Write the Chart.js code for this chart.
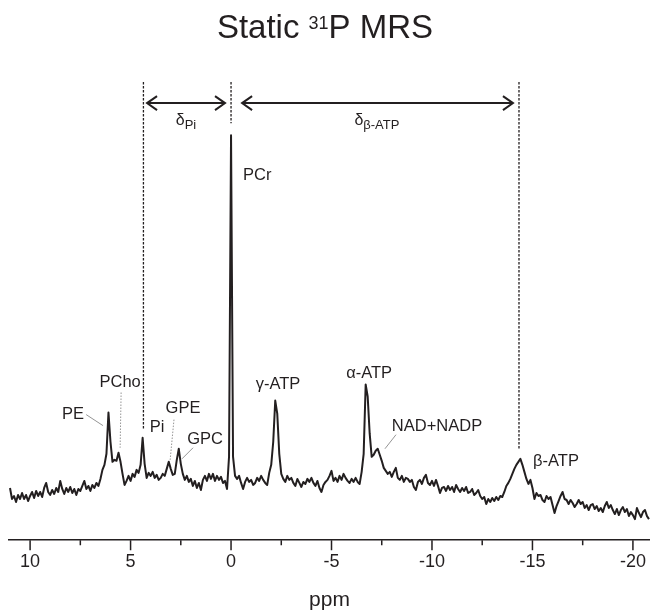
<!DOCTYPE html>
<html lang="en">
<head>
<meta charset="UTF-8">
<title>Static 31P MRS</title>
<style>
  body { margin: 0; background: #fff; }
  canvas { display: block; }
</style>
</head>
<body>
<canvas id="mrs" width="650" height="613"></canvas>
<script src="https://cdn.jsdelivr.net/npm/chart.js"></script>
<script>
// chemical shift axis (ppm) and signal intensity (a.u.)
const ppm = [
  11.0, 10.9, 10.8, 10.7, 10.6, 10.5, 10.4, 10.3, 10.2, 10.1,
  10.0, 9.9, 9.8, 9.7, 9.6, 9.5, 9.4, 9.3, 9.2, 9.1,
  9.0, 8.9, 8.8, 8.7, 8.6, 8.5, 8.4, 8.3, 8.2, 8.1,
  8.0, 7.9, 7.8, 7.7, 7.6, 7.5, 7.4, 7.3, 7.2, 7.1,
  7.0, 6.9, 6.8, 6.7, 6.6, 6.5, 6.4, 6.3, 6.2, 6.1,
  6.0, 5.9, 5.8, 5.7, 5.6, 5.5, 5.4, 5.3, 5.2, 5.1,
  5.0, 4.9, 4.8, 4.7, 4.6, 4.5, 4.4, 4.3, 4.2, 4.1,
  4.0, 3.9, 3.8, 3.7, 3.6, 3.5, 3.4, 3.3, 3.2, 3.1,
  3.0, 2.9, 2.8, 2.7, 2.6, 2.5, 2.4, 2.3, 2.2, 2.1,
  2.0, 1.9, 1.8, 1.7, 1.6, 1.5, 1.4, 1.3, 1.2, 1.1,
  1.0, 0.9, 0.8, 0.7, 0.6, 0.5, 0.4, 0.3, 0.2, 0.1,
  0.0, -0.1, -0.2, -0.3, -0.4, -0.5, -0.6, -0.7, -0.8, -0.9,
  -1.0, -1.1, -1.2, -1.3, -1.4, -1.5, -1.6, -1.7, -1.8, -1.9,
  -2.0, -2.1, -2.2, -2.3, -2.4, -2.5, -2.6, -2.7, -2.8, -2.9,
  -3.0, -3.1, -3.2, -3.3, -3.4, -3.5, -3.6, -3.7, -3.8, -3.9,
  -4.0, -4.1, -4.2, -4.3, -4.4, -4.5, -4.6, -4.7, -4.8, -4.9,
  -5.0, -5.1, -5.2, -5.3, -5.4, -5.5, -5.6, -5.7, -5.8, -5.9,
  -6.0, -6.1, -6.2, -6.3, -6.4, -6.5, -6.6, -6.7, -6.8, -6.9,
  -7.0, -7.1, -7.2, -7.3, -7.4, -7.5, -7.6, -7.7, -7.8, -7.9,
  -8.0, -8.1, -8.2, -8.3, -8.4, -8.5, -8.6, -8.7, -8.8, -8.9,
  -9.0, -9.1, -9.2, -9.3, -9.4, -9.5, -9.6, -9.7, -9.8, -9.9,
  -10.0, -10.1, -10.2, -10.3, -10.4, -10.5, -10.6, -10.7, -10.8, -10.9,
  -11.0, -11.1, -11.2, -11.3, -11.4, -11.5, -11.6, -11.7, -11.8, -11.9,
  -12.0, -12.1, -12.2, -12.3, -12.4, -12.5, -12.6, -12.7, -12.8, -12.9,
  -13.0, -13.1, -13.2, -13.3, -13.4, -13.5, -13.6, -13.7, -13.8, -13.9,
  -14.0, -14.1, -14.2, -14.3, -14.4, -14.5, -14.6, -14.7, -14.8, -14.9,
  -15.0, -15.1, -15.2, -15.3, -15.4, -15.5, -15.6, -15.7, -15.8, -15.9,
  -16.0, -16.1, -16.2, -16.3, -16.4, -16.5, -16.6, -16.7, -16.8, -16.9,
  -17.0, -17.1, -17.2, -17.3, -17.4, -17.5, -17.6, -17.7, -17.8, -17.9,
  -18.0, -18.1, -18.2, -18.3, -18.4, -18.5, -18.6, -18.7, -18.8, -18.9,
  -19.0, -19.1, -19.2, -19.3, -19.4, -19.5, -19.6, -19.7, -19.8, -19.9,
  -20.0, -20.1, -20.2, -20.3, -20.4, -20.5, -20.6, -20.7, -20.8
];
const intensity = [
  10.4, 8.2, 8.8, 7.6, 9.0, 8.2, 9.4, 8.2, 9.0, 7.8,
  8.8, 9.6, 8.4, 9.8, 8.8, 9.6, 8.6, 10.4, 11.4, 9.6,
  9.0, 10.0, 9.2, 10.4, 9.6, 11.8, 10.2, 9.2, 10.4, 9.6,
  10.6, 9.4, 10.2, 9.0, 10.2, 9.8, 10.8, 11.8, 10.2, 10.8,
  9.8, 11.0, 10.4, 11.4, 10.8, 12.2, 14.0, 15.0, 17.2, 25.4,
  19.6, 15.6, 16.0, 15.8, 17.4, 15.6, 13.2, 11.0, 11.8, 12.8,
  11.8, 13.2, 12.6, 14.0, 13.4, 15.0, 20.4, 15.2, 12.4, 13.4,
  12.8, 13.6, 12.4, 13.0, 12.0, 12.4, 13.2, 12.8, 14.2, 15.6,
  14.2, 13.0, 13.2, 16.0, 18.2, 15.2, 13.2, 12.0, 12.8, 11.6,
  12.2, 10.8, 11.8, 10.4, 11.4, 10.0, 12.0, 12.8, 11.8, 13.2,
  12.2, 13.2, 11.8, 12.8, 12.0, 12.6, 11.4, 11.8, 10.2, 16.6,
  80.6, 16.6, 12.8, 12.2, 12.8, 11.4, 10.2, 11.6, 12.4, 11.6,
  12.0, 11.0, 11.4, 12.4, 11.8, 12.8, 12.0, 11.4, 11.0, 13.4,
  15.0, 19.6, 27.8, 25.2, 17.2, 13.2, 12.2, 11.6, 12.8, 12.0,
  12.4, 11.4, 10.8, 12.2, 11.4, 10.6, 11.6, 11.2, 12.2, 11.6,
  12.4, 11.4, 10.8, 11.8, 10.4, 9.6, 11.0, 11.6, 12.0, 12.8,
  13.8, 11.8, 12.4, 11.6, 12.8, 12.0, 13.2, 12.4, 11.8, 11.4,
  12.2, 11.6, 12.4, 11.6, 11.2, 13.6, 17.2, 31.0, 28.6, 21.2,
  16.6, 17.0, 17.8, 18.2, 17.0, 15.8, 14.4, 13.8, 13.2, 13.6,
  12.6, 13.6, 14.4, 12.4, 12.0, 12.8, 11.6, 12.4, 12.2, 11.6,
  12.0, 10.6, 10.0, 11.6, 12.0, 11.2, 12.4, 13.0, 11.4, 11.0,
  11.8, 10.8, 12.0, 10.8, 9.4, 10.4, 10.6, 9.8, 10.8, 10.0,
  10.6, 9.6, 11.0, 10.2, 9.6, 10.4, 9.8, 10.6, 9.4, 9.6,
  10.2, 9.0, 9.4, 10.0, 8.8, 8.2, 8.6, 7.2, 8.2, 7.6,
  8.4, 7.8, 8.6, 8.0, 8.8, 8.6, 9.6, 10.8, 11.4, 12.2,
  13.2, 14.2, 15.0, 15.6, 16.2, 15.0, 13.6, 12.2, 11.2, 12.0,
  10.4, 8.2, 9.4, 8.8, 9.0, 8.0, 7.6, 8.8, 8.2, 8.6,
  7.0, 5.4, 6.8, 7.8, 8.8, 9.6, 8.2, 8.0, 7.2, 8.0,
  7.4, 6.6, 7.2, 8.0, 7.2, 7.6, 6.4, 7.0, 6.0, 7.0,
  7.2, 6.2, 6.8, 5.8, 6.4, 5.6, 6.8, 7.6, 6.4, 7.0,
  6.0, 5.2, 6.2, 5.0, 6.0, 6.6, 5.6, 6.2, 4.8, 5.6,
  5.0, 4.2, 6.4, 5.4, 4.6, 5.6, 6.0, 4.8, 4.2
];
const majorTicks = [10, 5, 0, -5, -10, -15, -20];
const minorTicks = [7.5, 2.5, -2.5, -7.5, -12.5, -17.5];

// annotations, in (ppm, intensity)
const peakLabels = [
  { text: 'PE', x: 7.86, y: 25.0 },
  { text: 'PCho', x: 5.52, y: 31.4 },
  { text: 'Pi', x: 3.68, y: 22.4 },
  { text: 'GPE', x: 2.39, y: 26.2 },
  { text: 'GPC', x: 1.29, y: 20.0 },
  { text: 'PCr', x: -0.6, y: 72.6, align: 'left' },
  { text: 'γ-ATP', x: -2.34, y: 31.0 },
  { text: 'α-ATP', x: -6.87, y: 33.2 },
  { text: 'NAD+NADP', x: -10.25, y: 22.6 },
  { text: 'β-ATP', x: -16.17, y: 15.6 }
];
const leaders = [
  { x1: 7.21, y1: 25.0, x2: 6.37, y2: 22.8 },
  { x1: 5.47, y1: 29.4, x2: 5.52, y2: 18.4, dotted: true },
  { x1: 2.84, y1: 24.0, x2: 3.03, y2: 16.0, dotted: true },
  { x1: 1.89, y1: 18.4, x2: 2.44, y2: 16.2 },
  { x1: -8.21, y1: 21.0, x2: -7.66, y2: 18.2 }
];
const refLines = [
  { x: 4.36, top: 91.2, bottom: 22.0 },
  { x: 0, top: 91.2, bottom: 83.0 },
  { x: -14.33, top: 91.2, bottom: 18.2 }
];
const shiftArrows = [
  { from: 4.18, to: 0.30, y: 87, sub: 'Pi', labelX: 2.24 },
  { from: -0.55, to: -14.03, y: 87, sub: 'β-ATP', labelX: -7.26 }
];

const ink = '#231f20';
const FONT = '"Liberation Sans", Arial, Helvetica, sans-serif';

Chart.defaults.font.family = FONT;
Chart.defaults.color = ink;

const annotate = {
  id: 'annotate',
  afterDraw(chart) {
    const ctx = chart.ctx;
    const xs = chart.scales.x, ys = chart.scales.y;
    const px = v => xs.getPixelForValue(v);
    const py = v => ys.getPixelForValue(v);
    const base = chart.chartArea.bottom;
    ctx.save();

    // title with superscript
    ctx.fillStyle = ink;
    ctx.textBaseline = 'alphabetic';
    ctx.textAlign = 'left';
    ctx.font = '33px ' + FONT;
    const w1 = ctx.measureText('Static ').width;
    const w3 = ctx.measureText('P MRS').width;
    ctx.font = '18px ' + FONT;
    const w2 = ctx.measureText('31').width;
    let tx = 325 - (w1 + w2 + w3) / 2;
    ctx.font = '33px ' + FONT;
    ctx.fillText('Static ', tx, 38);
    ctx.font = '18px ' + FONT;
    ctx.fillText('31', tx + w1, 29);
    ctx.font = '33px ' + FONT;
    ctx.fillText('P MRS', tx + w1 + w2, 38);

    // tick marks
    ctx.strokeStyle = ink;
    ctx.lineWidth = 1.5;
    ctx.beginPath();
    majorTicks.forEach(t => { ctx.moveTo(px(t), base); ctx.lineTo(px(t), base + 10); });
    minorTicks.forEach(t => { ctx.moveTo(px(t), base); ctx.lineTo(px(t), base + 5); });
    ctx.stroke();

    // dashed reference lines
    ctx.lineWidth = 1.3;
    ctx.setLineDash([2.5, 1.5]);
    refLines.forEach(r => {
      ctx.beginPath();
      ctx.moveTo(px(r.x), py(r.top));
      ctx.lineTo(px(r.x), py(r.bottom));
      ctx.stroke();
    });
    ctx.setLineDash([]);

    // double arrows + delta labels
    ctx.lineWidth = 2;
    shiftArrows.forEach(a => {
      const x1 = px(a.from), x2 = px(a.to), y = py(a.y);
      ctx.beginPath();
      ctx.moveTo(x1, y); ctx.lineTo(x2, y);
      ctx.moveTo(x1 + 10, y - 7); ctx.lineTo(x1, y); ctx.lineTo(x1 + 10, y + 7);
      ctx.moveTo(x2 - 10, y - 7); ctx.lineTo(x2, y); ctx.lineTo(x2 - 10, y + 7);
      ctx.stroke();
      ctx.font = '16px ' + FONT;
      const wd = ctx.measureText('δ').width;
      ctx.font = '13px ' + FONT;
      const ws = ctx.measureText(a.sub).width;
      const lx = px(a.labelX) - (wd + ws) / 2;
      const ly = py(82.6);
      ctx.font = '16px ' + FONT;
      ctx.fillText('δ', lx, ly);
      ctx.font = '13px ' + FONT;
      ctx.fillText(a.sub, lx + wd, ly + 4);
    });

    // leader lines
    ctx.strokeStyle = '#7a7a7a';
    ctx.lineWidth = 0.8;
    leaders.forEach(l => {
      ctx.setLineDash(l.dotted ? [1.5, 1.5] : []);
      ctx.beginPath();
      ctx.moveTo(px(l.x1), py(l.y1));
      ctx.lineTo(px(l.x2), py(l.y2));
      ctx.stroke();
    });
    ctx.setLineDash([]);

    // peak names
    ctx.font = '16.5px ' + FONT;
    ctx.textBaseline = 'middle';
    peakLabels.forEach(p => {
      ctx.textAlign = p.align || 'center';
      ctx.fillText(p.text, px(p.x), py(p.y));
    });
    ctx.restore();
  }
};

new Chart(document.getElementById('mrs'), {
  type: 'line',
  data: {
    datasets: [{
      data: ppm.map((x, i) => ({ x: x, y: intensity[i] })),
      borderColor: ink,
      borderWidth: 2,
      pointRadius: 0,
      tension: 0,
      borderJoinStyle: 'round'
    }]
  },
  options: {
    responsive: false,
    animation: false,
    layout: { padding: { top: 78, left: 9, right: 0, bottom: 0 } },
    plugins: { legend: { display: false }, tooltip: { enabled: false } },
    scales: {
      x: {
        type: 'linear',
        reverse: true,
        min: -20.85,
        max: 11.05,
        grid: { display: false, drawTicks: false },
        border: { display: true, color: ink, width: 1.5 },
        afterBuildTicks: scale => { scale.ticks = majorTicks.map(v => ({ value: v })); },
        afterFit: scale => { scale.paddingLeft = 0; scale.paddingRight = 0; },
        ticks: { autoSkip: false, maxRotation: 0, padding: 11, font: { size: 18 }, color: ink },
        title: { display: true, text: 'ppm', font: { size: 21 }, color: ink, padding: { top: 4, bottom: 0 } }
      },
      y: { display: false, min: 0, max: 92 }
    }
  },
  plugins: [annotate]
});
</script>
</body>
</html>
